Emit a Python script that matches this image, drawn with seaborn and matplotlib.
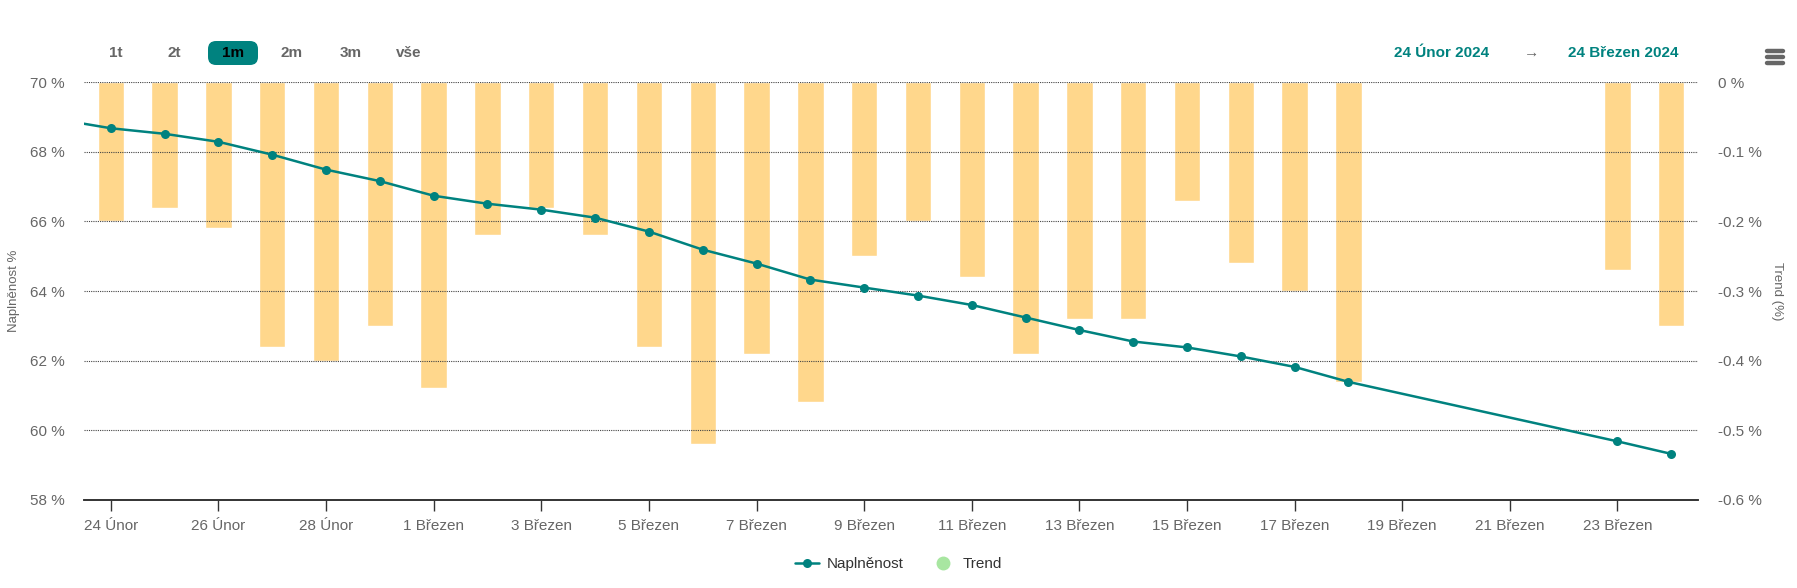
import pandas as pd
import matplotlib
matplotlib.use("Agg")
import matplotlib.pyplot as plt
from matplotlib.lines import Line2D
from matplotlib.patches import FancyBboxPatch
from matplotlib.transforms import IdentityTransform
import seaborn as sns

# Naplnenost (left axis, %) - first value is the point just before the visible window
fill_dates = ["2024-02-23", "2024-02-24", "2024-02-25", "2024-02-26", "2024-02-27", "2024-02-28",
              "2024-02-29", "2024-03-01", "2024-03-02", "2024-03-03", "2024-03-04", "2024-03-05",
              "2024-03-06", "2024-03-07", "2024-03-08", "2024-03-09", "2024-03-10", "2024-03-11",
              "2024-03-12", "2024-03-13", "2024-03-14", "2024-03-15", "2024-03-16", "2024-03-17",
              "2024-03-18", "2024-03-23", "2024-03-24"]
fill_values = [68.94, 68.68, 68.52, 68.29, 67.92, 67.49, 67.16, 66.74, 66.51, 66.34, 66.11, 65.71,
               65.19, 64.79, 64.33, 64.10, 63.87, 63.60, 63.24, 62.88, 62.55, 62.38, 62.12, 61.82,
               61.39, 59.68, 59.32]

# Trend (right axis, %)
trend_dates = fill_dates[1:]
trend_values = [-0.20, -0.18, -0.21, -0.38, -0.40, -0.35, -0.44, -0.22, -0.18, -0.22, -0.38,
                -0.52, -0.39, -0.46, -0.25, -0.20, -0.28, -0.39, -0.34, -0.34, -0.17, -0.26,
                -0.30, -0.43, -0.27, -0.35]

tick_dates = ["2024-02-24", "2024-02-26", "2024-02-28", "2024-03-01", "2024-03-03", "2024-03-05",
              "2024-03-07", "2024-03-09", "2024-03-11", "2024-03-13", "2024-03-15", "2024-03-17",
              "2024-03-19", "2024-03-21", "2024-03-23"]
tick_labels = ["24 Únor", "26 Únor", "28 Únor", "1 Březen", "3 Březen", "5 Březen", "7 Březen",
               "9 Březen", "11 Březen", "13 Březen", "15 Březen", "17 Březen", "19 Březen",
               "21 Březen", "23 Březen"]
range_buttons = ["1t", "2t", "1m", "2m", "3m", "vše"]

teal = "#00827f"
bar_color = "#ffd78c"
grey = "#666666"

start = pd.Timestamp("2024-02-24")
def day_offset(dates):
    return [(pd.Timestamp(d) - start).days for d in dates]

fill_df = pd.DataFrame({"day": day_offset(fill_dates), "value": fill_values})
trend_df = pd.DataFrame({"day": day_offset(trend_dates), "value": trend_values})

sns.set_theme(style="white")
plt.rcParams["font.family"] = ["Liberation Sans", "DejaVu Sans"]

fig = plt.figure(figsize=(17.97, 5.88), dpi=100)
ax = fig.add_axes([0.0467, 0.150, 0.8983, 0.710])

# bars on the primary axis so they stay behind the line
sns.barplot(data=trend_df, x="day", y="value", native_scale=True, ax=ax,
            color=bar_color, width=0.49, saturation=1, zorder=1)
ax.set_axisbelow(False)
ax.grid(axis="y", color="#444444", linestyle=(0, (1, 1)), linewidth=0.8, zorder=2)
ax.grid(axis="x", visible=False)

ax2 = ax.twinx()
sns.lineplot(data=fill_df, x="day", y="value", ax=ax2, color=teal, linewidth=1.8,
             marker="o", markersize=6.5, markeredgewidth=0, zorder=5)

ax.set_ylim(-0.6, 0)
ax.set_yticks([-0.6, -0.5, -0.4, -0.3, -0.2, -0.1, 0])
ax.set_yticklabels(["-0.6 %", "-0.5 %", "-0.4 %", "-0.3 %", "-0.2 %", "-0.1 %", "0 %"])
ax.yaxis.tick_right()
ax.set_ylabel("Trend (%)", rotation=270, color=grey, fontsize=9.5, va="center")
ax.yaxis.set_label_coords(1.049, 0.5)

ax2.set_ylim(58, 70)
ax2.set_yticks([58, 60, 62, 64, 66, 68, 70])
ax2.set_yticklabels([f"{v} %" for v in [58, 60, 62, 64, 66, 68, 70]])
ax2.yaxis.tick_left()
ax2.set_ylabel("Naplněnost %", color=grey, fontsize=9.5, va="center")
ax2.yaxis.set_label_coords(-0.0434, 0.5)

for a in (ax, ax2):
    a.set_xlim(-0.5, 29.5)
    a.set_xlabel("")
    for s in ["top", "left", "right"]:
        a.spines[s].set_visible(False)
    a.spines["bottom"].set_color("#333333")
    a.spines["bottom"].set_linewidth(1.2)
    a.tick_params(axis="y", length=0, pad=14, labelsize=11, labelcolor=grey)

ax.set_xticks(day_offset(tick_dates))
ax.set_xticklabels(tick_labels)
ax.tick_params(axis="x", bottom=True, length=8, width=1, color="#333333", pad=6,
               labelsize=11, labelcolor=grey)
ax2.tick_params(axis="x", bottom=False, labelbottom=False)

# range selector buttons (box drawn in pixel units)
fig.patches.append(FancyBboxPatch((208, 523), 50, 24,
                                  boxstyle="round,pad=0,rounding_size=8",
                                  transform=IdentityTransform(), facecolor=teal,
                                  edgecolor="none"))
btn_x = [116, 174, 233, 292, 351, 409]
for label, x in zip(range_buttons, btn_x):
    fig.text(x / 1797, 0.910, label, ha="center", va="center", fontsize=11,
             fontweight="bold", color="black" if label == "1m" else grey)

fig.text(1442 / 1797, 0.910, "24 Únor 2024", ha="center", va="center", fontsize=11,
         fontweight="bold", color=teal)
fig.text(1532 / 1797, 0.910, "→", ha="center", va="center", fontsize=11, color=grey)
fig.text(1623 / 1797, 0.910, "24 Březen 2024", ha="center", va="center", fontsize=11,
         fontweight="bold", color=teal)

# menu icon
for yy in [0.913, 0.903, 0.893]:
    fig.add_artist(Line2D([1767 / 1797, 1783 / 1797], [yy, yy], transform=fig.transFigure,
                          color=grey, linewidth=3.2, solid_capstyle="round"))

handles = [Line2D([], [], color=teal, marker="o", markersize=6.5, markeredgewidth=0, linewidth=1.8),
           Line2D([], [], color="#a8e6a1", marker="o", markersize=10, markeredgewidth=0, linestyle="none")]
fig.legend(handles, ["Naplněnost", "Trend"], loc="center", bbox_to_anchor=(0.5, 0.04),
           ncol=2, frameon=False, fontsize=11, labelcolor="#333333", handlelength=1.6,
           columnspacing=1.8, handletextpad=0.5)

fig.savefig("out.png", dpi=100, facecolor="white")
